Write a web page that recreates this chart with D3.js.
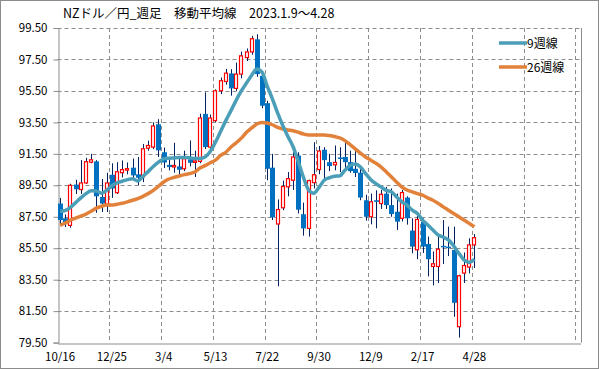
<!DOCTYPE html>
<html>
<head>
<meta charset="utf-8">
<script src="https://cdn.jsdelivr.net/npm/d3@7"></script>
<style>
  body { margin: 0; background: #fff; }
  svg { display: block; }
  text { font-family: "Noto Sans CJK JP", "Noto Sans", sans-serif; fill: #000; }
</style>
</head>
<body>
<svg id="chart" width="599" height="369"></svg>
<script>
// weekly candles, 10/16 .. 4/28 (81 weeks), axis runs on to 101 slots
const tickLabels = ["10/16", "12/25", "3/4", "5/13", "7/22", "9/30", "12/9", "2/17", "4/28"];
const yTicks = [79.5, 81.5, 83.5, 85.5, 87.5, 89.5, 91.5, 93.5, 95.5, 97.5, 99.5];

const open = [88.34,87.40,86.95,89.55,89.23,89.65,90.97,91.02,88.76,88.30,
  90.17,89.03,90.30,90.50,90.62,90.20,90.03,91.86,91.93,93.38,
  91.60,90.80,90.72,90.70,90.55,91.15,91.00,91.02,94.04,91.93,
  93.61,95.51,96.10,96.61,95.66,96.57,97.62,97.98,98.78,96.46,
  94.72,90.62,87.04,88.07,89.40,89.82,91.39,87.66,86.76,89.67,
  90.50,91.76,90.97,90.80,91.27,91.30,90.97,90.55,90.30,88.55,
  87.50,88.55,88.34,88.97,88.24,87.82,87.40,88.72,86.62,85.40,
  87.18,85.77,84.34,84.34,85.65,85.60,85.39,80.51,83.92,84.30,
  85.71];
const high = [88.70,87.65,89.60,89.85,91.10,91.25,91.50,91.10,89.90,90.30,
  90.90,90.97,91.08,90.95,91.20,91.30,92.13,92.34,93.50,93.70,
  91.90,91.20,92.20,91.20,91.70,92.35,91.70,94.05,95.41,94.00,
  95.60,96.35,96.90,96.88,97.30,98.00,98.20,99.00,99.10,96.60,
  94.87,91.50,88.60,89.80,90.34,91.60,91.60,88.40,89.86,92.24,
  92.00,91.92,91.50,92.03,91.92,92.34,91.70,91.86,90.60,88.90,
  88.97,89.18,89.20,89.40,89.30,88.97,89.20,88.80,87.40,87.55,
  87.40,86.24,85.29,86.24,87.29,86.87,86.87,83.82,85.23,86.13,
  86.40];
const low = [87.00,86.85,86.80,88.95,88.95,89.60,90.90,87.75,87.80,87.80,
  88.70,88.95,90.00,90.20,89.90,89.50,89.70,91.70,91.80,91.30,
  90.60,90.45,90.30,90.20,90.40,90.70,90.03,90.90,91.80,91.70,
  93.50,95.30,95.90,95.20,95.50,96.30,97.40,97.80,96.40,94.40,
  89.82,87.29,83.08,87.92,88.80,89.20,87.71,86.30,86.24,89.30,
  90.20,89.92,90.40,90.45,90.34,90.50,90.30,90.03,88.55,87.25,
  87.02,86.76,88.00,88.00,87.50,86.66,87.20,87.00,85.18,84.80,
  85.20,83.71,83.14,83.29,84.50,85.00,81.14,79.82,83.29,83.90,
  84.24];
const close = [87.29,87.10,89.50,89.25,89.65,91.00,91.12,88.80,88.34,89.65,
  89.30,90.36,90.50,90.56,90.13,89.98,91.82,92.03,93.27,91.72,
  90.95,90.66,90.76,90.49,91.19,90.93,91.05,93.78,91.93,93.78,
  95.51,96.15,96.63,95.66,96.57,97.73,97.98,98.82,96.57,94.56,
  90.55,87.46,87.96,89.42,89.92,91.30,87.95,86.76,89.80,90.17,
  91.68,91.10,90.72,90.95,91.17,90.97,90.40,90.28,88.72,87.50,
  88.45,88.45,88.93,88.24,87.67,87.19,89.04,87.40,85.60,87.33,
  85.60,84.80,84.51,85.44,85.56,85.55,82.03,83.75,84.40,85.71,
  86.17];
const ma9 = [87.85,87.90,88.10,88.40,88.70,88.97,89.15,89.14,89.00,89.18,
  89.47,89.66,89.76,89.86,89.92,89.77,90.07,90.37,90.70,90.97,
  91.18,91.22,91.24,91.26,91.27,91.25,91.20,91.20,91.30,91.65,
  92.24,92.92,93.61,94.25,94.90,95.50,96.00,96.50,96.90,96.70,
  95.80,95.00,94.10,93.30,92.60,91.95,91.00,90.00,89.20,89.00,
  89.37,89.82,89.98,90.07,90.10,90.45,90.76,90.85,90.66,90.24,
  89.86,89.60,89.39,89.18,89.08,88.76,88.45,88.24,87.92,87.71,
  87.29,86.97,86.66,86.34,86.20,86.03,85.65,85.18,84.76,84.60,
  84.80];
const ma26 = [86.95,87.10,87.29,87.42,87.54,87.67,87.85,88.05,88.17,88.24,
  88.24,88.30,88.36,88.45,88.55,88.66,88.80,88.97,89.18,89.44,
  89.71,89.90,90.00,90.09,90.18,90.24,90.34,90.60,90.75,90.93,
  91.10,91.40,91.60,91.93,92.20,92.50,92.87,93.15,93.40,93.50,
  93.46,93.35,93.18,93.08,93.02,92.97,92.87,92.76,92.70,92.70,
  92.70,92.70,92.66,92.60,92.51,92.34,92.09,91.82,91.54,91.30,
  91.10,90.90,90.66,90.35,90.03,89.70,89.39,89.20,89.08,88.97,
  88.87,88.70,88.55,88.35,88.13,87.92,87.71,87.50,87.29,87.08,
  86.87];

const svg = d3.select("#chart");
const W = 599, H = 369;
const plotL = 57.5, plotR = 580.5, plotT = 28, plotB = 342.6;

// outer frame
svg.append("rect")
  .attr("x", 0.5).attr("y", 0.5)
  .attr("width", W - 1).attr("height", H - 1)
  .attr("fill", "#fff").attr("stroke", "#8c8c8c");

const x = d3.scaleBand()
  .domain(d3.range(101))
  .range([plotL, plotR])
  .paddingInner(0.24)
  .paddingOuter(0.12);

const y = d3.scaleLinear()
  .domain([79.5, 99.5])
  .range([plotB, plotT]);

const cx = i => x(i) + x.bandwidth() / 2;

// grid
const grid = svg.append("g").attr("stroke", "#8c8c8c").attr("stroke-dasharray", "4,3");
grid.selectAll("line.h")
  .data(yTicks.slice(1))
  .enter().append("line")
  .attr("x1", plotL).attr("x2", plotR)
  .attr("y1", d => Math.round(y(d)) + 0.5)
  .attr("y2", d => Math.round(y(d)) + 0.5);
grid.selectAll("line.v")
  .data(d3.range(10, 101, 10))
  .enter().append("line")
  .attr("x1", k => Math.round(plotL + k * x.step()) + 0.5)
  .attr("x2", k => Math.round(plotL + k * x.step()) + 0.5)
  .attr("y1", plotT).attr("y2", plotB);

// right border
svg.append("line")
  .attr("x1", Math.round(plotR) + 0.5).attr("x2", Math.round(plotR) + 0.5)
  .attr("y1", plotT).attr("y2", plotB)
  .attr("stroke", "#8c8c8c");

// y axis
const yAxis = svg.append("g")
  .attr("transform", `translate(${Math.round(plotL) + 0.5},0)`)
  .call(d3.axisLeft(y).tickValues(yTicks).tickFormat(d3.format(".2f")).tickSize(5).tickPadding(6));
yAxis.select(".domain").attr("stroke", "#8c8c8c");
yAxis.selectAll(".tick line").attr("stroke", "#8c8c8c");
yAxis.selectAll("text").attr("font-size", "11.5px")
  .style("font-family", "'Noto Sans CJK JP', sans-serif").attr("fill", "#000");

// x axis
const xAxis = svg.append("g")
  .attr("transform", `translate(0,${Math.round(plotB) + 0.5})`)
  .call(d3.axisBottom(x)
    .tickValues(d3.range(0, 81, 10))
    .tickFormat(i => tickLabels[i / 10])
    .tickSize(0).tickPadding(9));
xAxis.select(".domain").attr("stroke", "#8c8c8c");
xAxis.selectAll("text").attr("font-size", "11.5px")
  .style("font-family", "'Noto Sans CJK JP', sans-serif").attr("fill", "#000");
xAxis.selectAll(".tick").attr("transform", i => `translate(${cx(i)},0)`);

// candles
const idx = d3.range(open.length);
svg.append("g").selectAll("line")
  .data(idx).enter().append("line")
  .attr("x1", i => Math.round(cx(i)) + 0.5)
  .attr("x2", i => Math.round(cx(i)) + 0.5)
  .attr("y1", i => y(high[i]))
  .attr("y2", i => y(low[i]))
  .attr("stroke", "#002060").attr("stroke-width", 1);

const bw = 4;
svg.append("g").selectAll("rect")
  .data(idx).enter().append("rect")
  .attr("x", i => close[i] >= open[i] ? Math.round(cx(i)) - bw / 2 + 0.5 : Math.round(cx(i)) - bw / 2)
  .attr("width", i => close[i] >= open[i] ? bw - 1 : bw + 1)
  .attr("y", i => y(Math.max(open[i], close[i])))
  .attr("height", i => Math.max(1.5, Math.abs(y(open[i]) - y(close[i]))))
  .attr("fill", i => close[i] >= open[i] ? "#fff" : "#0070C0")
  .attr("stroke", i => close[i] >= open[i] ? "#FF0000" : "none")
  .attr("stroke-width", 1.2);

// moving averages
const line = d3.line().x((d, i) => cx(i)).y(d => y(d)).curve(d3.curveMonotoneX);
svg.append("path").datum(ma26)
  .attr("d", line).attr("fill", "none")
  .attr("stroke", "#E2823A").attr("stroke-width", 3.5).attr("stroke-linejoin", "round");
svg.append("path").datum(ma9)
  .attr("d", line).attr("fill", "none")
  .attr("stroke", "#4A9EB8").attr("stroke-width", 3.5).attr("stroke-linejoin", "round");

// legend
const legend = [["9週線", "#4A9EB8", 43], ["26週線", "#E2823A", 67]];
const lg = svg.append("g");
legend.forEach(([name, col, ly]) => {
  lg.append("line").attr("x1", 499).attr("x2", 527).attr("y1", ly).attr("y2", ly)
    .attr("stroke", col).attr("stroke-width", 3.5);
  lg.append("text").attr("x", 527).attr("y", ly + 4.5)
    .attr("font-size", "12px").text(name);
});

// title
svg.append("text")
  .attr("x", 63).attr("y", 18)
  .attr("font-size", "12.5px")
  .text("NZドル／円_週足　移動平均線　2023.1.9～4.28");
</script>
</body>
</html>
